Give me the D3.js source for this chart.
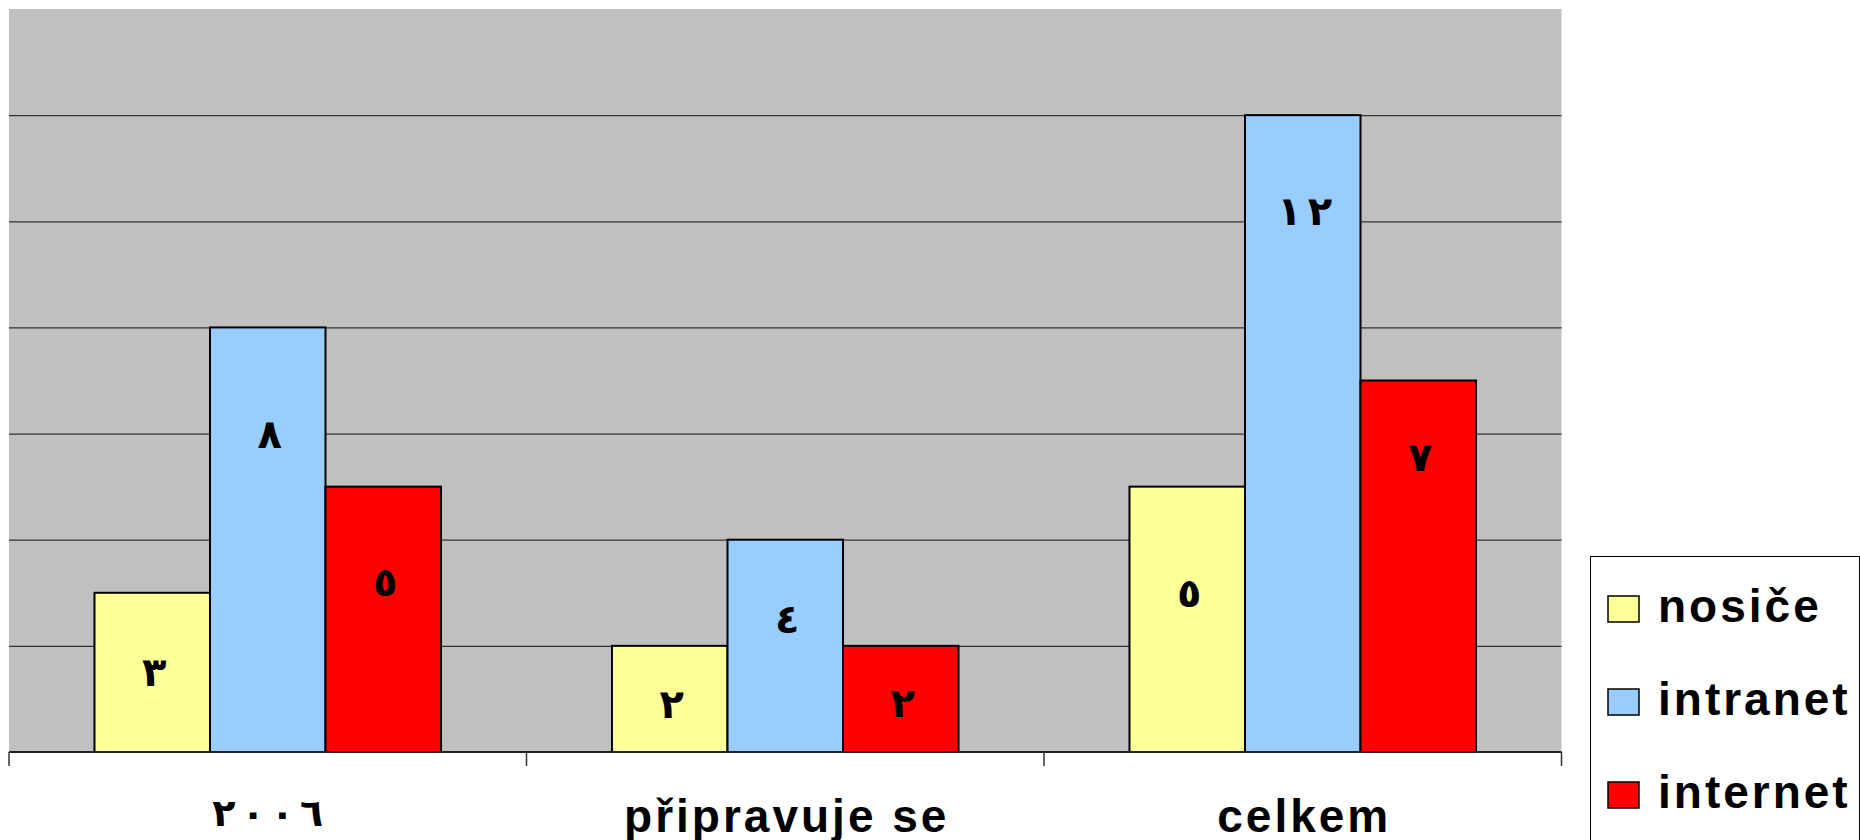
<!DOCTYPE html>
<html>
<head>
<meta charset="utf-8">
<script src="https://cdn.jsdelivr.net/npm/d3@7"></script>
<style>
  body { margin: 0; background: #ffffff; }
  svg { display: block; }
</style>
</head>
<body>
<div id="chart"></div>
<script>
// data
var categories = ["٢٠٠٦", "připravuje se", "celkem"];
var seriesNames = ["nosiče", "intranet", "internet"];
var nosice   = [3, 2, 5];
var intranet = [8, 4, 12];
var internet = [5, 2, 7];
var valueLabels = [["٣", "٢", "٥"], ["٨", "٤", "١٢"], ["٥", "٢", "٧"]];
// where each value label sits, in value units (placed by hand in the original)
var labelAt = [[1.5, 0.9, 3.0], [6.0, 2.5, 10.2], [3.2, 0.92, 5.55]];
var gridTicks = [2, 4, 6, 8, 10, 12];
var yMax = 14;
var colors = ["#FFFF99", "#99CCFF", "#FF0000"];

var series = [nosice, intranet, internet];

var W = 1860, H = 840;
var plot = { left: 9, right: 1561.5, top: 9, bottom: 752 };

var svg = d3.select("#chart").append("svg")
    .attr("width", W)
    .attr("height", H);

var x0 = d3.scaleBand()
    .domain(categories)
    .range([plot.left, plot.right]);

var x1 = d3.scaleBand()
    .domain(d3.range(seriesNames.length))
    .range([0, x0.bandwidth()])
    .paddingOuter(0.74);

var y = d3.scaleLinear()
    .domain([0, yMax])
    .range([plot.bottom, plot.top]);

// arabic digits: chrome ignores letter-spacing on arabic, so space them with tspans
function spacedDigits(sel, txt, gap) {
    sel.selectAll("tspan")
        .data(Array.from(txt))
        .enter().append("tspan")
        .attr("dx", function(d, i) { return i ? gap : 0; })
        .text(function(d) { return d; });
}

// plot background
svg.append("rect")
    .attr("x", plot.left)
    .attr("y", plot.top)
    .attr("width", plot.right - plot.left)
    .attr("height", plot.bottom - plot.top)
    .attr("fill", "#C0C0C0");

// gridlines
var grid = svg.append("g")
    .attr("transform", "translate(" + plot.left + ",0)")
    .call(d3.axisLeft(y).tickValues(gridTicks).tickSize(-(plot.right - plot.left)).tickFormat(""));
grid.select(".domain").remove();
grid.selectAll("line").attr("stroke", "#333333").attr("stroke-width", 1.3);

// bars
var groups = svg.selectAll("g.cat")
    .data(categories)
    .enter().append("g")
    .attr("class", "cat")
    .attr("transform", function(d) { return "translate(" + x0(d) + ",0)"; });

groups.each(function(cat, ci) {
    var g = d3.select(this);
    series.forEach(function(vals, si) {
        g.append("rect")
            .attr("x", x1(si))
            .attr("y", y(vals[ci]))
            .attr("width", x1.bandwidth())
            .attr("height", y(0) - y(vals[ci]))
            .attr("fill", colors[si])
            .attr("stroke", "#000000")
            .attr("stroke-width", 2);
    });
    series.forEach(function(vals, si) {
        var t = g.append("text")
            .attr("x", x1(si) + x1.bandwidth() / 2 + 2)
            .attr("y", y(labelAt[si][ci]))
            .attr("dominant-baseline", "central")
            .attr("text-anchor", "middle")
            .style("font-family", "'DejaVu Sans', sans-serif")
            .style("font-weight", "bold")
            .style("font-size", "40px")
            .attr("fill", "#000000");
        spacedDigits(t, valueLabels[si][ci], 6);
    });
});

// baseline
svg.append("line")
    .attr("x1", plot.left).attr("x2", plot.right)
    .attr("y1", y(0)).attr("y2", y(0))
    .attr("stroke", "#222222")
    .attr("stroke-width", 2);

// category boundary ticks
var bounds = categories.map(function(c) { return x0(c); }).concat([plot.right]);
svg.selectAll("line.tick-b")
    .data(bounds)
    .enter().append("line")
    .attr("class", "tick-b")
    .attr("x1", function(d) { return d; }).attr("x2", function(d) { return d; })
    .attr("y1", y(0)).attr("y2", y(0) + 14)
    .attr("stroke", "#333333")
    .attr("stroke-width", 1.5);

// category labels
var isArabic = function(s) { return /[\u0660-\u0669]/.test(s); };
svg.selectAll("text.cat-label")
    .data(categories)
    .enter().append("text")
    .attr("class", "cat-label")
    .attr("x", function(d) { return x0(d) + x0.bandwidth() / 2 + (isArabic(d) ? 0 : 1.5); })
    .attr("y", function(d) { return isArabic(d) ? 826 : 832; })
    .attr("text-anchor", "middle")
    .style("font-family", function(d) { return isArabic(d) ? "'DejaVu Sans', sans-serif" : "'Liberation Sans', Arial, sans-serif"; })
    .style("font-weight", "bold")
    .style("font-size", function(d) { return isArabic(d) ? "38px" : "46px"; })
    .style("letter-spacing", function(d) { return isArabic(d) ? null : "3px"; })
    .attr("fill", "#000000")
    .each(function(d) {
        if (isArabic(d)) spacedDigits(d3.select(this), d, 6);
        else d3.select(this).text(d);
    });

// legend
var legend = svg.append("g").attr("transform", "translate(1590,556)");
legend.append("rect")
    .attr("x", 0.5).attr("y", 0.5)
    .attr("width", 269).attr("height", 320)
    .attr("fill", "#ffffff")
    .attr("stroke", "#000000")
    .attr("stroke-width", 1);

var items = legend.selectAll("g.item")
    .data(seriesNames)
    .enter().append("g")
    .attr("class", "item")
    .attr("transform", function(d, i) { return "translate(0," + (i * 93) + ")"; });

items.append("rect")
    .attr("x", 18).attr("y", 40)
    .attr("width", 31).attr("height", 26)
    .attr("fill", function(d, i) { return colors[i]; })
    .attr("stroke", "#000000")
    .attr("stroke-width", 1.5);

items.append("text")
    .attr("x", 68).attr("y", 66)
    .style("font-family", "'Liberation Sans', Arial, sans-serif")
    .style("font-weight", "bold")
    .style("font-size", "46px")
    .style("letter-spacing", "3px")
    .attr("fill", "#000000")
    .text(function(d) { return d; });
</script>
</body>
</html>
